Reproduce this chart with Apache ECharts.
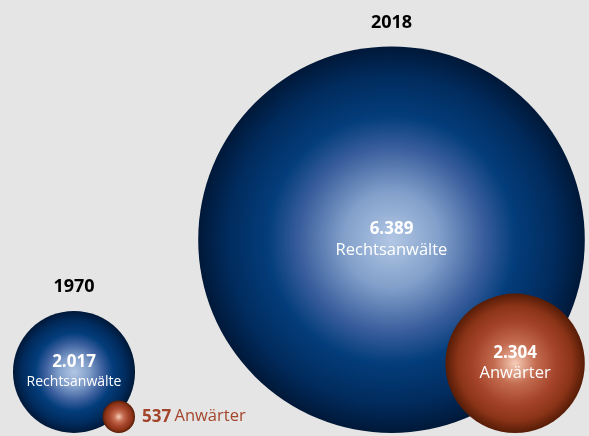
<!DOCTYPE html>
<html>
<head>
<meta charset="utf-8">
<script src="https://cdn.jsdelivr.net/npm/echarts@6/dist/echarts.min.js"></script>
<style>
  html, body { margin: 0; padding: 0; background: #e5e5e5; }
  #main { width: 589px; height: 436px; }
</style>
</head>
<body>
<div id="main"></div>
<script>
// Daten
var years = ['1970', '2018'];
var lawyers = [2017, 6389];   // Rechtsanwälte
var trainees = [537, 2304];   // Anwärter

// Layout: Radius linear zum Wert, alle Kreise stehen auf einer Grundlinie
var K = 193.3 / 6389;          // px Radius pro Person
var BASE = 433;
var CENTER_X = [74, 391.5];

function fmt(n) {
    return String(n).replace(/\B(?=(\d{3})+(?!\d))/g, '.');
}

var blueGrad = new echarts.graphic.RadialGradient(0.5, 0.5, 0.5, [
    { offset: 0, color: '#b2c7e4' },
    { offset: 0.25, color: '#819fca' },
    { offset: 0.48, color: '#395d9c' },
    { offset: 0.64, color: '#033d7b' },
    { offset: 0.85, color: '#012b5d' },
    { offset: 1, color: '#001838' }
]);
var redGrad = new echarts.graphic.RadialGradient(0.5, 0.5, 0.5, [
    { offset: 0, color: '#f6cdb8' },
    { offset: 0.3, color: '#c46c50' },
    { offset: 0.6, color: '#a4432a' },
    { offset: 0.82, color: '#8c3418' },
    { offset: 1, color: '#561c06' }
]);

var blueData = [], redData = [], yearData = [];
years.forEach(function (y, i) {
    var rb = lawyers[i] * K;
    var rr = trainees[i] * K;
    var cx = CENTER_X[i];
    blueData.push({
        name: y,
        value: [cx, BASE - rb, lawyers[i]],
        label: {
            formatter: '{v|' + fmt(lawyers[i]) + '}\n{' + (i === 0 ? 'ns' : 'n') + '|Rechtsanwälte}'
        }
    });
    var red = {
        name: y,
        value: [cx + rb - rr, BASE - rr, trainees[i]],
        label: {
            formatter: '{v|' + fmt(trainees[i]) + '}\n{n|Anwärter}'
        }
    };
    if (i === 0) {
        // kleiner Kreis: Beschriftung rechts daneben
        red.label = {
            position: 'right',
            align: 'left',
            distance: 7,
            formatter: '{bv|' + fmt(trainees[i]) + '} {bn|Anwärter}'
        };
    }
    redData.push(red);
    yearData.push({ name: y, value: [cx, BASE - 2 * rb - 24, 0] });
});

var richStyle = {
    v: { fontSize: 17, fontWeight: 'bold', color: '#fff', lineHeight: 21, fontFamily: 'Open Sans' },
    n: { fontSize: 16.5, color: '#fff', lineHeight: 21, fontFamily: 'Open Sans' },
    ns: { fontSize: 14, color: '#fff', lineHeight: 20, fontFamily: 'Open Sans' },
    bv: { fontSize: 17, fontWeight: 'bold', color: '#a3452b', fontFamily: 'Open Sans' },
    bn: { fontSize: 16.5, color: '#a3452b', fontFamily: 'Open Sans' }
};

var myChart = echarts.init(document.getElementById('main'));

var option = {
    backgroundColor: '#e5e5e5',
    animation: false,
    grid: { left: 0, right: 0, top: 0, bottom: 0 },
    xAxis: { type: 'value', min: 0, max: 589, show: false },
    yAxis: { type: 'value', min: 0, max: 436, inverse: true, show: false },
    series: [
        {
            name: 'Rechtsanwälte',
            type: 'scatter',
            silent: true,
            data: blueData,
            symbolSize: function (val) { return val[2] * 2 * K; },
            itemStyle: { color: blueGrad, opacity: 1 },
            label: { show: true, position: 'inside', align: 'center', rich: richStyle }
        },
        {
            name: 'Anwärter',
            type: 'scatter',
            silent: true,
            data: redData,
            symbolSize: function (val) { return val[2] * 2 * K; },
            itemStyle: { color: redGrad, opacity: 1 },
            label: { show: true, position: 'inside', align: 'center', rich: richStyle }
        },
        {
            name: 'Jahr',
            type: 'scatter',
            silent: true,
            data: yearData,
            symbolSize: 1,
            itemStyle: { color: 'rgba(0,0,0,0)', opacity: 1 },
            label: {
                show: true,
                position: 'inside',
                formatter: '{b}',
                color: '#000',
                opacity: 1,
                fontSize: 18,
                fontWeight: 'bold',
                fontFamily: 'Open Sans'
            }
        }
    ]
};

myChart.setOption(option);
</script>
</body>
</html>
